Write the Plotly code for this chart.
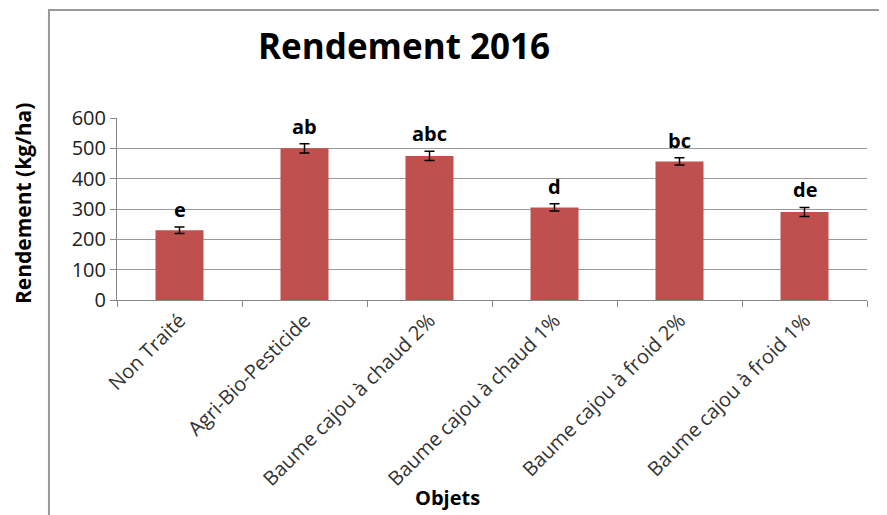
import plotly.graph_objects as go

categories = ["Non Traité", "Agri-Bio-Pesticide", "Baume cajou à chaud 2%",
              "Baume cajou à chaud 1%", "Baume cajou à froid 2%", "Baume cajou à froid 1%"]
values = [230, 500, 475, 305, 457, 290]
errors = [11, 15, 15, 12, 12, 15]
letters = ["e", "ab", "abc", "d", "bc", "de"]
y_ticks = [0, 100, 200, 300, 400, 500, 600]

FONT = "Open Sans"

fig = go.Figure()
fig.add_trace(go.Bar(
    x=categories, y=values,
    marker=dict(color="#C0504D", line=dict(width=0)),
    width=0.384,
    error_y=dict(type="data", array=errors, visible=True, color="black", thickness=1.5, width=5),
))

for c, v, e, t in zip(categories, values, errors, letters):
    fig.add_annotation(x=c, y=v + e, text="<b>%s</b>" % t, showarrow=False,
                       yanchor="bottom", yshift=2,
                       font=dict(family=FONT, size=20, color="black"))

fig.add_annotation(xref="paper", yref="paper", x=0.383, y=1.40, text="<b>Rendement 2016</b>",
                   showarrow=False, xanchor="center", yanchor="middle",
                   font=dict(family=FONT, size=35, color="black"))
fig.add_annotation(xref="paper", yref="paper", x=-0.1253, y=0.527, text="<b>Rendement (kg/ha)</b>",
                   showarrow=False, xanchor="center", yanchor="middle", textangle=-90,
                   font=dict(family=FONT, size=21, color="black"))
fig.add_annotation(xref="paper", yref="paper", x=0.44, y=-1.085, text="<b>Objets</b>",
                   showarrow=False, xanchor="center", yanchor="middle",
                   font=dict(family=FONT, size=20, color="black"))

fig.add_shape(type="rect", xref="paper", yref="paper", x0=-0.0907, y0=-3, x1=1.3, y1=1.593,
              line=dict(color="#9a9a9a", width=2), fillcolor="rgba(0,0,0,0)", layer="below")

# page has an 8px body margin: figure is sized/offset so the plot lands where the reference has it
fig.update_layout(
    width=879, height=507,
    margin=dict(l=109, r=20, t=110, b=215),
    paper_bgcolor="white", plot_bgcolor="white",
    showlegend=False,
    font=dict(family=FONT, color="black"),
    xaxis=dict(
        type="category", tickangle=-45, ticks="outside", tickson="boundaries", automargin=False,
        ticklen=6, tickcolor="#888888", showline=True, linecolor="#888888", linewidth=1,
        tickfont=dict(family=FONT, size=20, color="#333333"),
    ),
    yaxis=dict(
        range=[0, 600], tickvals=y_ticks, ticks="outside", ticklen=6, tickcolor="#888888",
        showline=True, linecolor="#888888", linewidth=1, automargin=False,
        showgrid=True, gridcolor="#9a9a9a", gridwidth=1,
        tickfont=dict(family=FONT, size=20, color="#222222"),
        zeroline=False,
    ),
)

fig.write_html("out.html")
